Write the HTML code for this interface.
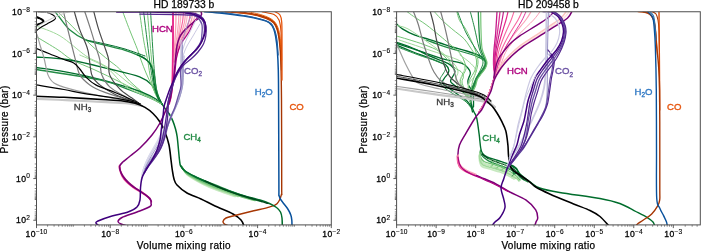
<!DOCTYPE html>
<html><head><meta charset="utf-8"><title>Mixing ratios</title><style>
html,body{margin:0;padding:0;background:#fff;}
body{width:701px;height:251px;overflow:hidden;}
svg{display:block;will-change:transform;}
text{font-family:"Liberation Sans", sans-serif;}
.tl{font-size:8.6px;fill:#000;stroke:#000;stroke-width:0.3px;letter-spacing:0.35px;}
.sup{font-size:6.6px;letter-spacing:0.1px;stroke-width:0.12px;}
.tt{font-size:10.3px;fill:#000;stroke:#000;stroke-width:0.25px;}
.xl{font-size:10px;fill:#000;letter-spacing:0.36px;stroke:#000;stroke-width:0.25px;}
.yl{font-size:10px;fill:#000;letter-spacing:0.3px;stroke:#000;stroke-width:0.25px;}
.lb{font-size:9.6px;stroke-width:0.35px;}
.sub{font-size:6.4px;}
</style></head><body>
<svg width="701" height="251" viewBox="0 0 701 251">
<defs><clipPath id="cl"><rect x="36.5" y="11.75" width="294.8" height="213.15"/></clipPath>
<clipPath id="cr"><rect x="396.6" y="11.75" width="303.7" height="213.15"/></clipPath></defs>
<rect width="701" height="251" fill="#fff"/>
<g clip-path="url(#cl)" stroke-linecap="round" stroke-linejoin="round">
<path d="M55 11.7 C55.83 12.75 57.52 14.97 60 18 C62.48 21.03 65.6 26.25 69.9 29.9 C74.2 33.55 80.17 37.4 85.8 39.9 C91.43 42.4 97.38 43.25 103.7 44.9 C110.02 46.55 117.72 47.98 123.7 49.8 C129.68 51.62 135.42 53.82 139.6 55.8 C143.78 57.78 146.68 59.78 148.8 61.7 C150.92 63.62 151.37 64.97 152.3 67.3 C153.23 69.63 153.78 72.25 154.4 75.7 C155.02 79.15 155.23 84.28 156 88 C156.77 91.72 158 95.33 159 98 C160 100.67 161.5 103 162 104" stroke="#238b45" stroke-width="1.3" fill="none"/>
<path d="M57.9 11.7 C59.57 13.42 62.58 16.63 67.9 22 C73.22 27.37 83.5 37.93 89.8 43.9 C96.1 49.87 100.72 53.62 105.7 57.8 C110.68 61.98 115.72 65.13 119.7 69 C123.68 72.87 125.38 76.83 129.6 81 C133.82 85.17 139.6 90.17 145 94 C150.4 97.83 159.17 102.33 162 104" stroke="#74c476" stroke-width="1.0" fill="none"/>
<path d="M36 25.9 C40 27.57 51.7 30.92 60 35.9 C68.3 40.88 79.13 51.28 85.8 55.8 C92.47 60.32 95.13 60.3 100 63 C104.87 65.7 110 68.5 115 72 C120 75.5 124.5 80 130 84 C135.5 88 142.67 92.67 148 96 C153.33 99.33 159.67 102.67 162 104" stroke="#a1d99b" stroke-width="1.0" fill="none"/>
<path d="M36 36.5 C39.65 38.72 51.92 45.92 57.9 49.8 C63.88 53.68 65.72 56.43 71.9 59.8 C78.08 63.17 86.98 66.3 95 70 C103.02 73.7 111.67 77.83 120 82 C128.33 86.17 138 91.33 145 95 C152 98.67 159.17 102.5 162 104" stroke="#74c476" stroke-width="1.0" fill="none"/>
<path d="M36 57 C41.65 57.5 57.62 58 69.9 60 C82.18 62 98.08 66.18 109.7 69 C121.32 71.82 132.62 74.25 139.6 76.9 C146.58 79.55 148.53 81.72 151.6 84.9 C154.67 88.08 156.27 92.82 158 96 C159.73 99.18 161.33 102.67 162 104" stroke="#006d2c" stroke-width="1.3" fill="none"/>
<path d="M36 67.5 C39.98 68.07 50.93 69.33 59.9 70.9 C68.87 72.47 79.83 74.57 89.8 76.9 C99.77 79.23 110.73 82.25 119.7 84.9 C128.67 87.55 137.63 90.48 143.6 92.8 C149.57 95.12 152.43 96.93 155.5 98.8 C158.57 100.67 160.92 103.13 162 104" stroke="#006d2c" stroke-width="1.3" fill="none"/>
<path d="M36 69.5 C46.63 71.23 84.2 76.5 99.8 79.9 C115.4 83.3 121.23 86.88 129.6 89.9 C137.97 92.92 144.6 95.65 150 98 C155.4 100.35 160 103 162 104" stroke="#238b45" stroke-width="1.3" fill="none"/>
<path d="M122.7 11.7 C123.85 14.73 127.12 23.55 129.6 29.9 C132.08 36.25 135.7 44.78 137.6 49.8 C139.5 54.82 139.6 56.15 141 60 C142.4 63.85 144.17 68.57 146 72.9 C147.83 77.23 150.17 81.98 152 86 C153.83 90.02 155.33 94 157 97 C158.67 100 161.17 102.83 162 104" stroke="#74c476" stroke-width="1.0" fill="none"/>
<path d="M139.6 11.7 C140.27 16.4 142.27 31.85 143.6 39.9 C144.93 47.95 146.37 53.32 147.6 60 C148.83 66.68 149.6 74.17 151 80 C152.4 85.83 154.17 91 156 95 C157.83 99 161 102.5 162 104" stroke="#74c476" stroke-width="1.0" fill="none"/>
<path d="M143.6 11.7 C144.6 19.75 148.03 48.28 149.6 60 C151.17 71.72 151.77 76 153 82 C154.23 88 155.5 92.33 157 96 C158.5 99.67 161.17 102.67 162 104" stroke="#238b45" stroke-width="1.0" fill="none"/>
<path d="M147.4 11.7 C148.1 19.75 150.42 47.8 151.6 60 C152.78 72.2 153.43 78.57 154.5 84.9 C155.57 91.23 156.75 94.82 158 98 C159.25 101.18 161.33 103 162 104" stroke="#74c476" stroke-width="1.0" fill="none"/>
<path d="M150.6 11.7 C151.08 19.75 152.6 47.62 153.5 60 C154.4 72.38 155.08 79.5 156 86 C156.92 92.5 158 96 159 99 C160 102 161.5 103.17 162 104" stroke="#238b45" stroke-width="1.0" fill="none"/>
<path d="M137.6 55 C138.93 55.67 143.27 57 145.6 59 C147.93 61 150.12 62.68 151.6 67 C153.08 71.32 153.43 79.73 154.5 84.9 C155.57 90.07 156.75 94.82 158 98 C159.25 101.18 161.33 103 162 104" stroke="#006d2c" stroke-width="1.2" fill="none"/>
<path d="M79.8 55 C84.12 57 99.05 62.68 105.7 67 C112.35 71.32 115.72 77.25 119.7 80.9 C123.68 84.55 124.88 86.22 129.6 88.9 C134.32 91.58 142.6 94.48 148 97 C153.4 99.52 159.67 102.83 162 104" stroke="#a1d99b" stroke-width="1.0" fill="none"/>
<path d="M86 40 C89.33 40.7 99.5 42.7 106 44.2 C112.5 45.7 118.5 47.03 125 49 C131.5 50.97 141.67 54.83 145 56" stroke="#006d2c" stroke-width="1.0" fill="none"/>
<path d="M63.5 11.7 C64.23 14.73 66.33 23.55 67.9 29.9 C69.47 36.25 71.55 44.45 72.9 49.8 C74.25 55.15 74.85 57.82 76 62 C77.15 66.18 77.5 71.08 79.8 74.9 C82.1 78.72 85.82 82.07 89.8 84.9 C93.78 87.73 97.4 89.42 103.7 91.9 C110 94.38 121.55 97.78 127.6 99.8 C133.65 101.82 137.93 103.3 140 104" stroke="#7c7c7c" stroke-width="1.2" fill="none"/>
<path d="M74.3 11.7 C75.22 14.73 77.55 23.55 79.8 29.9 C82.05 36.25 85.8 42.3 87.8 49.8 C89.8 57.3 89.8 69.05 91.8 74.9 C93.8 80.75 95.82 81.58 99.8 84.9 C103.78 88.22 110.17 92.12 115.7 94.8 C121.23 97.48 128.95 99.47 133 101 C137.05 102.53 138.83 103.5 140 104" stroke="#4a4a4a" stroke-width="1.2" fill="none"/>
<path d="M84.8 11.7 C85.8 14.73 88.8 23.55 90.8 29.9 C92.8 36.25 95.3 44.78 96.8 49.8 C98.3 54.82 98.97 55.82 99.8 60 C100.63 64.18 100.15 70.42 101.8 74.9 C103.45 79.38 105.72 83.25 109.7 86.9 C113.68 90.55 120.65 93.95 125.7 96.8 C130.75 99.65 137.62 102.8 140 104" stroke="#7c7c7c" stroke-width="1.2" fill="none"/>
<path d="M93.8 11.7 C94.63 14.73 96.82 23.55 98.8 29.9 C100.78 36.25 104.05 44.78 105.7 49.8 C107.35 54.82 108.03 55.82 108.7 60 C109.37 64.18 107.87 70.08 109.7 74.9 C111.53 79.72 116.05 85.08 119.7 88.9 C123.35 92.72 128.22 95.28 131.6 97.8 C134.98 100.32 138.6 102.97 140 104" stroke="#4a4a4a" stroke-width="1.2" fill="none"/>
<path d="M36 48.4 C38.33 49.33 45.35 52.15 50 54 C54.65 55.85 59.95 58 63.9 59.5 C67.85 61 71.05 61.42 73.7 63 C76.35 64.58 77.78 66.68 79.8 69 C81.82 71.32 83.13 74.25 85.8 76.9 C88.47 79.55 90.82 82.25 95.8 84.9 C100.78 87.55 109.4 90.15 115.7 92.8 C122 95.45 129.55 98.93 133.6 100.8 C137.65 102.67 138.93 103.47 140 104" stroke="#000000" stroke-width="1.2" fill="none"/>
<path d="M38 11.7 C39.5 11.83 44.5 11.95 47 12.5 C49.5 13.05 51.58 14.08 53 15 C54.42 15.92 55.33 17.17 55.5 18 C55.67 18.83 55.42 19 54 20 C52.58 21 49.33 22.67 47 24 C44.67 25.33 41.83 26.83 40 28 C38.17 29.17 37.17 30.17 36 31 C34.83 31.83 33.5 32.67 33 33" stroke="#000000" stroke-width="1.1" fill="none"/>
<path d="M36 33 C36.25 33.5 36.83 34 37.5 36 C38.17 38 38.92 41.33 40 45 C41.08 48.67 42.67 53.02 44 58 C45.33 62.98 46.33 70.75 48 74.9 C49.67 79.05 50.35 80.57 54 82.9 C57.65 85.23 62.23 86.72 69.9 88.9 C77.57 91.08 89.98 93.98 100 96 C110.02 98.02 123.33 99.67 130 101 C136.67 102.33 138.33 103.5 140 104" stroke="#a0a0a0" stroke-width="1.2" fill="none"/>
<path d="M36 84.9 C40.65 85.67 55.77 88.03 63.9 89.5 C72.03 90.97 75.5 92.15 84.8 93.7 C94.1 95.25 111.57 97.45 119.7 98.8 C127.83 100.15 130.22 100.93 133.6 101.8 C136.98 102.67 138.93 103.63 140 104" stroke="#000000" stroke-width="1.2" fill="none"/>
<path d="M36.4 17 C37 17.25 38.82 17.83 40 18.5 C41.18 19.17 43.25 20.25 43.5 21 C43.75 21.75 42.42 22.42 41.5 23 C40.58 23.58 38.85 24.17 38 24.5 C37.15 24.83 36.67 24.92 36.4 25" stroke="#000000" stroke-width="2.0" fill="none"/>
<path d="M42 11.7 C43.33 11.92 47 12.87 50 13 C53 13.13 56.67 12.72 60 12.5 C63.33 12.28 68.33 11.83 70 11.7" stroke="#c8c8c8" stroke-width="1.0" fill="none"/>
<path d="M38 26 C39.17 25.33 42.17 23.5 45 22 C47.83 20.5 51.67 18.5 55 17 C58.33 15.5 62.5 13.88 65 13 C67.5 12.12 69.17 11.92 70 11.7" stroke="#c8c8c8" stroke-width="1.0" fill="none"/>
<path d="M36 98.8 C41.67 99.05 58.33 99.73 70 100.3 C81.67 100.87 96.33 101.7 106 102.2 C115.67 102.7 122 102.67 128 103.3 C134 103.93 139.67 105.55 142 106" stroke="#c8c8c8" stroke-width="2.2" fill="none"/>
<path d="M36 96.3 C40.67 96.47 52.33 96.72 64 97.3 C75.67 97.88 96.5 99.22 106 99.8 C115.5 100.38 116.17 100.22 121 100.8 C125.83 101.38 131 102.2 135 103.3 C139 104.4 142 105.7 145 107.4 C148 109.1 150.5 111.07 153 113.5 C155.5 115.93 158 118.92 160 122 C162 125.08 163.5 128.17 165 132 C166.5 135.83 168 140.33 169 145 C170 149.67 170.45 155.83 171 160 C171.55 164.17 171.8 166.83 172.3 170 C172.8 173.17 173.22 176.5 174 179 C174.78 181.5 174.83 182.67 177 185 C179.17 187.33 183 190.67 187 193 C191 195.33 196.33 196.83 201 199 C205.67 201.17 209.67 203.5 215 206 C220.33 208.5 228.67 211.67 233 214 C237.33 216.33 239.17 218 241 220 C242.83 222 243.5 225 244 226" stroke="#000000" stroke-width="1.6" fill="none"/>
<path d="M225 11.7 C229 12.07 242.17 12.8 249 13.9 C255.83 15 261.9 16.83 266 18.3 C270.1 19.77 271.72 20.75 273.6 22.7 C275.48 24.65 276.32 26.78 277.3 30 C278.28 33.22 278.92 37 279.5 42 C280.08 47 280.47 50.33 280.8 60 C281.13 69.67 281.35 79.17 281.5 100 C281.65 120.83 281.72 169.22 281.7 185 C281.68 200.78 282.18 191.58 281.4 194.7 C280.62 197.82 279.22 201.6 277 203.7 C274.78 205.8 271.97 206.12 268.1 207.3 C264.23 208.48 259.18 209.47 253.8 210.8 C248.42 212.13 240.43 214.1 235.8 215.3 C231.17 216.5 228.13 216.97 226 218 C223.87 219.03 223.25 220.5 223 221.5 C222.75 222.5 223.75 223.33 224.5 224 C225.25 224.67 227 225.25 227.5 225.5" stroke="#a63603" stroke-width="1.4" fill="none"/>
<path d="M232 11.7 C235.5 12.15 247 13.25 253 14.4 C259 15.55 264.4 17.17 268 18.6 C271.6 20.03 272.93 21.02 274.6 23 C276.27 24.98 277.1 27.33 278 30.5 C278.9 33.67 279.5 37.08 280 42 C280.5 46.92 280.83 57 281 60" stroke="#d94801" stroke-width="1.2" fill="none"/>
<path d="M240 11.7 C242.83 12.18 252 13.38 257 14.6 C262 15.82 266.83 17.27 270 19 C273.17 20.73 274.5 22.33 276 25 C277.5 27.67 278.22 30.83 279 35 C279.78 39.17 280.3 44.17 280.7 50 C281.1 55.83 281.28 66.67 281.4 70" stroke="#a63603" stroke-width="1.1" fill="none"/>
<path d="M248 11.7 C250.33 12.25 258 13.7 262 15 C266 16.3 269.5 17.75 272 19.5 C274.5 21.25 275.7 22.92 277 25.5 C278.3 28.08 279.1 30.92 279.8 35 C280.5 39.08 280.97 47.5 281.2 50" stroke="#f16913" stroke-width="1.0" fill="none"/>
<path d="M262 11.7 C264 12.17 271.17 13.12 274 14.5 C276.83 15.88 277.83 17.08 279 20 C280.17 22.92 280.57 25.33 281 32 C281.43 38.67 281.5 55.33 281.6 60" stroke="#d94801" stroke-width="1.1" fill="none"/>
<path d="M275 11.7 C275.83 12.25 278.88 13.28 280 15 C281.12 16.72 281.37 17.83 281.7 22 C282.03 26.17 281.95 30.33 282 40 C282.05 49.67 282 73.33 282 80" stroke="#e6550d" stroke-width="1.3" fill="none"/>
<path d="M204.4 11.7 C207.33 11.95 215.4 12.47 222 13.2 C228.6 13.93 237.35 15 244 16.1 C250.65 17.2 257.7 18.7 261.9 19.8 C266.1 20.9 267.25 21.23 269.2 22.7 C271.15 24.17 272.5 26.13 273.6 28.6 C274.7 31.07 275.18 33.93 275.8 37.5 C276.42 41.07 276.88 44.58 277.3 50 C277.72 55.42 278.08 61.67 278.3 70 C278.52 78.33 278.5 80.83 278.6 100 C278.7 119.17 278.8 169 278.9 185 C279 201 278.62 193.18 279.2 196 C279.78 198.82 280.97 199.73 282.4 201.9 C283.83 204.07 286.4 206.82 287.8 209 C289.2 211.18 290.13 213.17 290.8 215 C291.47 216.83 291.6 218.17 291.8 220 C292 221.83 291.97 225 292 226" stroke="#08519c" stroke-width="1.5" fill="none"/>
<path d="M214 11.7 C217 12.05 225.67 12.92 232 13.8 C238.33 14.68 246.5 15.88 252 17 C257.5 18.12 261.75 19.33 265 20.5 C268.25 21.67 269.83 22.25 271.5 24 C273.17 25.75 274.08 28.33 275 31 C275.92 33.67 276.47 36 277 40 C277.53 44 278 52.5 278.2 55" stroke="#1f5fa0" stroke-width="1.1" fill="none"/>
<path d="M182 167.5 C182.83 168.67 184.5 172.25 187 174.5 C189.5 176.75 193.17 178.83 197 181 C200.83 183.17 205.83 185.67 210 187.5 C214.17 189.33 217.83 190.5 222 192 C226.17 193.5 232.83 195.75 235 196.5" stroke="#c7e9c0" stroke-width="1.8" fill="none"/>
<path d="M182 167 C182.83 168.17 184.5 171.8 187 174 C189.5 176.2 193.17 178.15 197 180.2 C200.83 182.25 205.5 184.42 210 186.3 C214.5 188.18 219.33 189.8 224 191.5 C228.67 193.2 235.67 195.67 238 196.5" stroke="#a1d99b" stroke-width="1.6" fill="none"/>
<path d="M181.5 166.5 C182.33 167.63 183.92 171.17 186.5 173.3 C189.08 175.43 193.08 177.32 197 179.3 C200.92 181.28 205.33 183.28 210 185.2 C214.67 187.12 219.67 188.83 225 190.8 C230.33 192.77 237 195.38 242 197 C247 198.62 252.83 199.92 255 200.5" stroke="#74c476" stroke-width="1.5" fill="none"/>
<path d="M181 166 C181.83 167 183.33 170 186 172 C188.67 174 193 176.03 197 178 C201 179.97 205.17 181.8 210 183.8 C214.83 185.8 220.33 187.88 226 190 C231.67 192.12 238 194.53 244 196.5 C250 198.47 259 200.92 262 201.8" stroke="#238b45" stroke-width="1.4" fill="none"/>
<path d="M181 166 C181.75 166.92 183 169.67 185.5 171.5 C188 173.33 191.92 175.12 196 177 C200.08 178.88 204.67 180.63 210 182.8 C215.33 184.97 221.67 187.63 228 190 C234.33 192.37 242.33 195.17 248 197 C253.67 198.83 259.67 200.33 262 201" stroke="#238b45" stroke-width="1.3" fill="none"/>
<path d="M162 104 C162.5 104.73 163.78 106.73 165 108.4 C166.22 110.07 168 111.92 169.3 114 C170.6 116.08 171.75 118.35 172.8 120.9 C173.85 123.45 174.87 126.62 175.6 129.3 C176.33 131.98 176.72 133.55 177.2 137 C177.68 140.45 178.12 146.17 178.5 150 C178.88 153.83 179.15 157.33 179.5 160 C179.85 162.67 179.77 164.25 180.6 166 C181.43 167.75 182.1 168.75 184.5 170.5 C186.9 172.25 191.08 174.5 195 176.5 C198.92 178.5 203.83 180.62 208 182.5 C212.17 184.38 214.67 185.78 220 187.8 C225.33 189.82 233.33 192.57 240 194.6 C246.67 196.63 255 198.48 260 200 C265 201.52 267.25 202.45 270 203.7 C272.75 204.95 274.75 206.12 276.5 207.5 C278.25 208.88 279.58 210.25 280.5 212 C281.42 213.75 281.7 215.67 282 218 C282.3 220.33 282.25 224.67 282.3 226" stroke="#006d2c" stroke-width="1.5" fill="none"/>
<path d="M205 181 C206.67 181.75 211.17 183.83 215 185.5 C218.83 187.17 223.83 189.38 228 191 C232.17 192.62 235.5 193.78 240 195.2 C244.5 196.62 250.33 198.12 255 199.5 C259.67 200.88 265.83 202.83 268 203.5" stroke="#00441b" stroke-width="1.3" fill="none"/>
<path d="M176 11.7 C175.97 13.92 175.97 20.28 175.8 25 C175.63 29.72 175.3 35.5 175 40 C174.7 44.5 174.17 50 174 52" stroke="#fa9fb5" stroke-width="1.3" fill="none"/>
<path d="M179 11.7 C178.92 13.42 178.83 17.95 178.5 22 C178.17 26.05 177.58 31.67 177 36 C176.42 40.33 175.5 44.67 175 48 C174.5 51.33 174.17 54.67 174 56" stroke="#fa9fb5" stroke-width="1.1" fill="none"/>
<path d="M181 11.7 C180.88 13.42 180.72 18.28 180.3 22 C179.88 25.72 179.22 30 178.5 34 C177.78 38 176.72 42.33 176 46 C175.28 49.67 174.5 54.33 174.2 56" stroke="#fbb4c4" stroke-width="1.3" fill="none"/>
<path d="M183.5 11.7 C183.33 13.42 183.08 18.45 182.5 22 C181.92 25.55 180.92 29.17 180 33 C179.08 36.83 177.92 41 177 45 C176.08 49 174.92 55 174.5 57" stroke="#f768a1" stroke-width="1.2" fill="none"/>
<path d="M185.5 11.7 C185.33 13.42 185.17 18.45 184.5 22 C183.83 25.55 182.58 29.33 181.5 33 C180.42 36.67 179.08 40.33 178 44 C176.92 47.67 175.67 52 175 55 C174.33 58 174.17 60.83 174 62" stroke="#fa9fb5" stroke-width="1.2" fill="none"/>
<path d="M187.5 11.7 C187.33 13.25 187.17 17.62 186.5 21 C185.83 24.38 184.67 28.5 183.5 32 C182.33 35.5 180.75 38.67 179.5 42 C178.25 45.33 176.83 48.67 176 52 C175.17 55.33 174.75 60.33 174.5 62" stroke="#fbb4c4" stroke-width="1.2" fill="none"/>
<path d="M190.5 11.7 C190.25 13.25 189.83 17.78 189 21 C188.17 24.22 186.83 27.67 185.5 31 C184.17 34.33 182.42 37.67 181 41 C179.58 44.33 178 47.5 177 51 C176 54.5 175.33 60.17 175 62" stroke="#f768a1" stroke-width="1.2" fill="none"/>
<path d="M193 11.7 C192.75 13.08 192.33 17.12 191.5 20 C190.67 22.88 189.42 25.83 188 29 C186.58 32.17 184.58 35.67 183 39 C181.42 42.33 179.75 45.5 178.5 49 C177.25 52.5 176 58.17 175.5 60" stroke="#fa9fb5" stroke-width="1.2" fill="none"/>
<path d="M196 11.7 C195.67 12.92 195 16.45 194 19 C193 21.55 191.5 24.17 190 27 C188.5 29.83 186.67 32.83 185 36 C183.33 39.17 181.42 42.5 180 46 C178.58 49.5 177.08 55.17 176.5 57" stroke="#fbb4c4" stroke-width="1.2" fill="none"/>
<path d="M173 11.7 C173 16.42 173.07 29.45 173 40 C172.93 50.55 172.8 66.67 172.6 75 C172.4 83.33 172.15 86.17 171.8 90 C171.45 93.83 170.97 95.67 170.5 98 C170.03 100.33 169.25 103 169 104" stroke="#e7298a" stroke-width="1.9" fill="none"/>
<path d="M119.2 166 C119.3 166.67 119.33 168.33 119.8 170 C120.27 171.67 120.88 174 122 176 C123.12 178 124.5 180 126.5 182 C128.5 184 131.42 186.17 134 188 C136.58 189.83 139.5 191.33 142 193 C144.5 194.67 147.42 196.5 149 198 C150.58 199.5 151.08 201.33 151.5 202" stroke="#f768a1" stroke-width="1.6" fill="none"/>
<path d="M120 165 C120.05 165.83 119.83 168.25 120.3 170 C120.77 171.75 121.6 173.62 122.8 175.5 C124 177.38 125.47 179.3 127.5 181.3 C129.53 183.3 132.42 185.63 135 187.5 C137.58 189.37 140.5 190.75 143 192.5 C145.5 194.25 148.83 197.08 150 198" stroke="#fa9fb5" stroke-width="1.4" fill="none"/>
<path d="M119.8 167 C120 168 120.22 171 121 173 C121.78 175 122.83 176.92 124.5 179 C126.17 181.08 128.58 183.58 131 185.5 C133.42 187.42 136.33 188.75 139 190.5 C141.67 192.25 144.92 194.17 147 196 C149.08 197.83 150.75 200.58 151.5 201.5" stroke="#ae017e" stroke-width="1.2" fill="none"/>
<path d="M198 17.5 C197.33 18.17 195.33 19.42 194 21.5 C192.67 23.58 191.17 27.75 190 30 C188.83 32.25 188.33 33 187 35 C185.67 37 183.42 39.5 182 42 C180.58 44.5 179.42 47.33 178.5 50 C177.58 52.67 177 55.33 176.5 58 C176 60.67 175.92 62.33 175.5 66 C175.08 69.67 174.25 77.67 174 80" stroke="#ae017e" stroke-width="1.3" fill="none"/>
<path d="M201 11.7 C201.08 12.17 201.83 13.45 201.5 14.5 C201.17 15.55 200.08 16.92 199 18 C197.92 19.08 196.67 19.67 195 21 C193.33 22.33 191 24.17 189 26 C187 27.83 184.62 30 183 32 C181.38 34 180.3 35.67 179.3 38 C178.3 40.33 177.58 43.12 177 46 C176.42 48.88 176.12 52.35 175.8 55.3 C175.48 58.25 175.48 59.58 175.1 63.7 C174.72 67.82 174.1 75.28 173.5 80 C172.9 84.72 172.08 88.67 171.5 92 C170.92 95.33 170.92 97 170 100 C169.08 103 167.67 106.17 166 110 C164.33 113.83 162.33 118.83 160 123 C157.67 127.17 155.33 130.83 152 135 C148.67 139.17 143.83 144.33 140 148 C136.17 151.67 131.92 154.62 129 157 C126.08 159.38 124.05 160.8 122.5 162.3 C120.95 163.8 120.08 164.63 119.7 166 C119.32 167.37 119.62 168.75 120.2 170.5 C120.78 172.25 121.82 174.5 123.2 176.5 C124.58 178.5 126.53 180.62 128.5 182.5 C130.47 184.38 132.42 185.92 135 187.8 C137.58 189.68 141.45 191.93 144 193.8 C146.55 195.67 149.13 197.47 150.3 199 C151.47 200.53 151.05 201.75 151 203 C150.95 204.25 152.33 205 150 206.5 C147.67 208 141.67 210.17 137 212 C132.33 213.83 125.17 215.92 122 217.5 C118.83 219.08 118.17 220.42 118 221.5 C117.83 222.58 119.33 223.25 121 224 C122.67 224.75 126.83 225.67 128 226" stroke="#7a0177" stroke-width="1.5" fill="none"/>
<path d="M196 20 C195 22 191.92 28 190 32 C188.08 36 185.92 40 184.5 44 C183.08 48 182.08 52.33 181.5 56 C180.92 59.67 181.08 64.33 181 66" stroke="#cbc9e2" stroke-width="1.0" fill="none"/>
<path d="M200 24 C198.83 26 195.33 32 193 36 C190.67 40 187.83 44 186 48 C184.17 52 182.83 56.33 182 60 C181.17 63.67 181.17 68.33 181 70" stroke="#cbc9e2" stroke-width="1.0" fill="none"/>
<path d="M192 14 C191.17 16 188.5 21.67 187 26 C185.5 30.33 183.92 35.67 183 40 C182.08 44.33 181.83 48 181.5 52 C181.17 56 181.08 62 181 64" stroke="#9e9ac8" stroke-width="0.9" fill="none"/>
<path d="M181 40 C181 42.5 180.97 50 181 55 C181.03 60 181.12 65.5 181.2 70 C181.28 74.5 181.7 78.17 181.5 82 C181.3 85.83 180.83 89.33 180 93 C179.17 96.67 177.83 100.5 176.5 104 C175.17 107.5 173.58 110.33 172 114 C170.42 117.67 168.5 122.17 167 126 C165.5 129.83 164.33 133.5 163 137 C161.67 140.5 160.67 143.83 159 147 C157.33 150.17 155 153.17 153 156 C151 158.83 148.67 161.33 147 164 C145.33 166.67 143.67 170.67 143 172" stroke="#cbc9e2" stroke-width="1.4" fill="none"/>
<path d="M170 118 C169.17 119.67 166.67 124.67 165 128 C163.33 131.33 161.67 134.83 160 138 C158.33 141.17 156.67 144.17 155 147 C153.33 149.83 151.5 152.33 150 155 C148.5 157.67 147.17 160.33 146 163 C144.83 165.67 143.75 168.17 143 171 C142.25 173.83 141.75 178.5 141.5 180" stroke="#cbc9e2" stroke-width="1.6" fill="none"/>
<path d="M168 120 C167.17 121.67 164.67 126.67 163 130 C161.33 133.33 159.67 136.83 158 140 C156.33 143.17 154.58 146.17 153 149 C151.42 151.83 149.83 154.33 148.5 157 C147.17 159.67 146 162.33 145 165 C144 167.67 142.92 171.67 142.5 173" stroke="#dadaeb" stroke-width="1.6" fill="none"/>
<path d="M171 117 C170.25 118.67 168 123.67 166.5 127 C165 130.33 163.5 133.83 162 137 C160.5 140.17 159.08 143.17 157.5 146 C155.92 148.83 154.08 151.33 152.5 154 C150.92 156.67 149.33 159.33 148 162 C146.67 164.67 145.5 167.33 144.5 170 C143.5 172.67 142.42 176.67 142 178" stroke="#9e9ac8" stroke-width="1.0" fill="none"/>
<path d="M182.5 45 C182.47 47.5 182.3 55 182.3 60 C182.3 65 182.55 70.33 182.5 75 C182.45 79.67 182.5 84.17 182 88 C181.5 91.83 180.58 94.67 179.5 98 C178.42 101.33 177.08 104.33 175.5 108 C173.92 111.67 171.75 116 170 120 C168.25 124 166.5 128.17 165 132 C163.5 135.83 162.5 139.5 161 143 C159.5 146.5 157.83 150 156 153 C154.17 156 151.83 158.33 150 161 C148.17 163.67 145.83 167.67 145 169" stroke="#9e9ac8" stroke-width="1.1" fill="none"/>
<path d="M184 56 C183.92 58.33 183.67 65.33 183.5 70 C183.33 74.67 183.58 79.67 183 84 C182.42 88.33 181.17 92.33 180 96 C178.83 99.67 177.5 102.33 176 106 C174.5 109.67 172.67 113.83 171 118 C169.33 122.17 167.5 127 166 131 C164.5 135 163.33 138.67 162 142 C160.67 145.33 159.67 148.17 158 151 C156.33 153.83 154 156.33 152 159 C150 161.67 147 165.67 146 167" stroke="#9e9ac8" stroke-width="1.0" fill="none"/>
<path d="M140 14.2 C145.83 14.27 166.67 14.43 175 14.6 C183.33 14.77 186 14.8 190 15.2 C194 15.6 196.75 15.87 199 17 C201.25 18.13 202.58 19.83 203.5 22 C204.42 24.17 204.58 27.33 204.5 30 C204.42 32.67 203.92 35.33 203 38 C202.08 40.67 200.83 43.33 199 46 C197.17 48.67 194.33 51.5 192 54 C189.67 56.5 187 58.67 185 61 C183 63.33 181.67 65.17 180 68 C178.33 70.83 176.42 74.33 175 78 C173.58 81.67 172.67 86 171.5 90 C170.33 94 168.83 97.83 168 102 C167.17 106.17 167.08 110.67 166.5 115 C165.92 119.33 165.25 123.83 164.5 128 C163.75 132.17 163 136.33 162 140 C161 143.67 160 146.83 158.5 150 C157 153.17 154.75 156.33 153 159 C151.25 161.67 149.5 163.67 148 166 C146.5 168.33 144.67 171.83 144 173" stroke="#54278f" stroke-width="1.3" fill="none"/>
<path d="M186 13.5 C187.67 14 193.37 14.75 196 16.5 C198.63 18.25 200.83 20.82 201.8 24 C202.77 27.18 202.03 32.5 201.8 35.6 C201.57 38.7 201.78 39.82 200.4 42.6 C199.02 45.38 195.82 49.52 193.5 52.3 C191.18 55.08 188.37 57.18 186.5 59.3 C184.63 61.42 183.3 62.88 182.3 65 C181.3 67.12 180.72 68.5 180.5 72 C180.28 75.5 181.42 81.83 181 86 C180.58 90.17 179 93.5 178 97 C177 100.5 176 104.17 175 107 C174 109.83 173.17 111 172 114 C170.83 117 169.17 121.17 168 125 C166.83 128.83 166.17 133.17 165 137 C163.83 140.83 162.58 144.67 161 148 C159.42 151.33 157.42 154.17 155.5 157 C153.58 159.83 151.25 162.5 149.5 165 C147.75 167.5 145.75 170.83 145 172" stroke="#6a51a3" stroke-width="1.3" fill="none"/>
<path d="M180 12 C182.5 12.25 191.17 12.42 195 13.5 C198.83 14.58 201.17 16.25 203 18.5 C204.83 20.75 205.53 24.08 206 27 C206.47 29.92 206.22 33.17 205.8 36 C205.38 38.83 204.8 41.33 203.5 44 C202.2 46.67 200.13 49.45 198 52 C195.87 54.55 193.08 57.13 190.7 59.3 C188.32 61.47 185.82 62.72 183.7 65 C181.58 67.28 179.78 69.83 178 73 C176.22 76.17 174.33 80.5 173 84 C171.67 87.5 170.75 91 170 94 C169.25 97 168.85 98.67 168.5 102 C168.15 105.33 168.23 110 167.9 114 C167.57 118 166.98 122.5 166.5 126 C166.02 129.5 165.75 131.83 165 135 C164.25 138.17 163.17 142 162 145 C160.83 148 159.67 150.33 158 153 C156.33 155.67 154 158.33 152 161 C150 163.67 147 167.67 146 169" stroke="#54278f" stroke-width="1.3" fill="none"/>
<path d="M116.7 11.9 C122.25 11.93 139.45 11.98 150 12.1 C160.55 12.22 172.67 12.2 180 12.6 C187.33 13 190.13 13.33 194 14.5 C197.87 15.67 201.27 17.7 203.2 19.6 C205.13 21.5 205.33 23.52 205.6 25.9 C205.87 28.28 205.47 31.25 204.8 33.9 C204.13 36.55 202.83 39.38 201.6 41.8 C200.37 44.22 199.72 45.68 197.4 48.4 C195.08 51.12 190.48 55.08 187.7 58.1 C184.92 61.12 182.57 63.93 180.7 66.5 C178.83 69.07 177.95 70.58 176.5 73.5 C175.05 76.42 173.17 81.25 172 84 C170.83 86.75 170.5 87.33 169.5 90 C168.5 92.67 166.92 97.17 166 100 C165.08 102.83 164.5 104.22 164 107 C163.5 109.78 163.42 113.2 163 116.7 C162.58 120.2 162 124.12 161.5 128 C161 131.88 160.75 136.33 160 140 C159.25 143.67 158.33 146.67 157 150 C155.67 153.33 153.83 156.67 152 160 C150.17 163.33 147.67 167 146 170 C144.33 173 142.92 175 142 178 C141.08 181 140.83 184.33 140.5 188 C140.17 191.67 140.58 196.83 140 200 C139.42 203.17 139 205 137 207 C135 209 132.17 210.5 128 212 C123.83 213.5 117 214.5 112 216 C107 217.5 100.67 219.83 98 221 C95.33 222.17 95.83 222.17 96 223 C96.17 223.83 98.5 225.5 99 226" stroke="#3f007d" stroke-width="1.5" fill="none"/>
</g>
<g clip-path="url(#cr)" stroke-linecap="round" stroke-linejoin="round">
<path d="M396 23.3 C397.07 24.23 399.25 26.92 402.4 28.9 C405.55 30.88 410.48 33.45 414.9 35.2 C419.32 36.95 424.72 38.1 428.9 39.4 C433.08 40.7 436.15 41.73 440 43 C443.85 44.27 447.57 45.67 452 47 C456.43 48.33 462.27 49.67 466.6 51 C470.93 52.33 475.1 53.67 478 55 C480.9 56.33 482.62 57.67 484 59 C485.38 60.33 486.22 61.38 486.3 63 C486.38 64.62 485.63 66.7 484.5 68.7 C483.37 70.7 481.08 72.78 479.5 75 C477.92 77.22 476.33 79.5 475 82 C473.67 84.5 472.25 87.5 471.5 90 C470.75 92.5 470.45 94.33 470.5 97 C470.55 99.67 471.22 103.5 471.8 106 C472.38 108.5 473.18 110 474 112 C474.82 114 475.85 114.35 476.7 118 C477.55 121.65 478.43 128.9 479.1 133.9 C479.77 138.9 480.13 144.73 480.7 148 C481.27 151.27 481.45 152 482.5 153.5 C483.55 155 484.45 155.83 487 157 C489.55 158.17 494.02 159.25 497.8 160.5 C501.58 161.75 506.67 163.25 509.7 164.5 C512.73 165.75 514.28 166.42 516 168 C517.72 169.58 517.73 171.75 520 174 C522.27 176.25 526.32 179.17 529.6 181.5 C532.88 183.83 534.7 186.17 539.7 188 C544.7 189.83 549.57 190.75 559.6 192.5 C569.63 194.25 589.87 196.67 599.9 198.5 C609.93 200.33 613.82 201.33 619.8 203.5 C625.78 205.67 631.15 209.12 635.8 211.5 C640.45 213.88 644.83 216.05 647.7 217.8 C650.57 219.55 651.83 220.63 653 222 C654.17 223.37 654.42 225.33 654.7 226" stroke="#006d2c" stroke-width="1.4" fill="none"/>
<path d="M396 44.8 C398.67 45.92 406.67 49.38 412 51.5 C417.33 53.62 423.33 55.67 428 57.5 C432.67 59.33 437.07 61.28 440 62.5 C442.93 63.72 444.15 63.62 445.6 64.8 C447.05 65.98 448.3 68.15 448.7 69.6 C449.1 71.05 448.65 72.18 448 73.5 C447.35 74.82 445.73 76.17 444.8 77.5 C443.87 78.83 442.67 80.43 442.4 81.5 C442.13 82.57 442.15 82.83 443.2 83.9 C444.25 84.97 446.32 86.17 448.7 87.9 C451.08 89.63 454.45 92.12 457.5 94.3 C460.55 96.48 464.75 98.88 467 101 C469.25 103.12 470.08 105.17 471 107 C471.92 108.83 472.25 111.17 472.5 112" stroke="#006d2c" stroke-width="1.3" fill="none"/>
<path d="M396 42 C399.17 43.17 409.33 46.63 415 49 C420.67 51.37 424.52 53.8 430 56.2 C435.48 58.6 444.02 61.42 447.9 63.4 C451.78 65.38 452.12 66.75 453.3 68.1 C454.48 69.45 454.97 70.3 455 71.5 C455.03 72.7 454.17 73.97 453.5 75.3 C452.83 76.63 451.4 78.33 451 79.5 C450.6 80.67 450.15 81.03 451.1 82.3 C452.05 83.57 454.38 85.15 456.7 87.1 C459.02 89.05 462.78 91.68 465 94 C467.22 96.32 468.83 98.67 470 101 C471.17 103.33 471.67 106.83 472 108" stroke="#006d2c" stroke-width="1.3" fill="none"/>
<path d="M396 43.2 C399.98 44.53 411.93 48.55 419.9 51.2 C427.87 53.85 436.87 57.1 443.8 59.1 C450.73 61.1 457.48 61.72 461.5 63.2 C465.52 64.68 466.43 66.42 467.9 68 C469.37 69.58 470.03 71.37 470.3 72.7 C470.57 74.03 469.9 74.67 469.5 76 C469.1 77.33 468.03 79.12 467.9 80.7 C467.77 82.28 467.9 83.63 468.7 85.5 C469.5 87.37 471.9 89.48 472.7 91.9 C473.5 94.32 473.37 97.48 473.5 100 C473.63 102.52 473.5 105.83 473.5 107" stroke="#006d2c" stroke-width="1.3" fill="none"/>
<path d="M396 46.4 C399.98 47.92 412.9 52.98 419.9 55.5 C426.9 58.02 433.98 59.92 438 61.5 C442.02 63.08 442.75 63.75 444 65 C445.25 66.25 445.67 67.5 445.5 69 C445.33 70.5 443.92 72.33 443 74 C442.08 75.67 440.42 77.33 440 79 C439.58 80.67 439.5 82.33 440.5 84 C441.5 85.67 443.58 87.17 446 89 C448.42 90.83 451.83 93 455 95 C458.17 97 462.42 99 465 101 C467.58 103 469.58 106 470.5 107" stroke="#238b45" stroke-width="1.0" fill="none"/>
<path d="M426.3 40 C429.22 41.07 436.37 44.02 443.8 46.4 C451.23 48.78 464.87 52.37 470.9 54.3 C476.93 56.23 477.65 56.88 480 58 C482.35 59.12 484 60 485 61 C486 62 486.33 62.67 486 64 C485.67 65.33 484.17 67.33 483 69 C481.83 70.67 480.17 72.33 479 74 C477.83 75.67 476.75 77.17 476 79 C475.25 80.83 475.25 82.83 474.5 85 C473.75 87.17 472.08 89.5 471.5 92 C470.92 94.5 471.08 98.67 471 100" stroke="#238b45" stroke-width="1.2" fill="none"/>
<path d="M407.2 11.7 C408.25 12.48 410.35 14.23 413.5 16.4 C416.65 18.57 421.68 21.45 426.1 24.7 C430.52 27.95 436.28 32.85 440 35.9 C443.72 38.95 445.12 40.15 448.4 43 C451.68 45.85 457.02 49.83 459.7 53 C462.38 56.17 463.45 59.38 464.5 62 C465.55 64.62 466.25 66.53 466 68.7 C465.75 70.87 463.92 73.12 463 75 C462.08 76.88 460.67 78 460.5 80 C460.33 82 460.92 84.5 462 87 C463.08 89.5 465.5 92.33 467 95 C468.5 97.67 470.33 101.67 471 103" stroke="#74c476" stroke-width="1.0" fill="none"/>
<path d="M434.4 11.7 C435.1 12.48 436.5 14.23 438.6 16.4 C440.7 18.57 444.2 22.15 447 24.7 C449.8 27.25 452.57 29.37 455.4 31.7 C458.23 34.03 461.57 36.15 464 38.7 C466.43 41.25 468.1 44.12 470 47 C471.9 49.88 474.32 53.17 475.4 56 C476.48 58.83 476.7 61.33 476.5 64 C476.3 66.67 475.28 69.5 474.2 72 C473.12 74.5 470.95 76.67 470 79 C469.05 81.33 468.5 83.33 468.5 86 C468.5 88.67 469.75 93.5 470 95" stroke="#74c476" stroke-width="1.0" fill="none"/>
<path d="M456.8 11.7 C457.27 13.18 458.23 17.88 459.6 20.6 C460.97 23.32 463.1 24.77 465 28 C466.9 31.23 469.17 36 471 40 C472.83 44 474.83 48.33 476 52 C477.17 55.67 478 58.67 478 62 C478 65.33 476.83 69 476 72 C475.17 75 473.83 77 473 80 C472.17 83 471.33 88.33 471 90" stroke="#74c476" stroke-width="1.0" fill="none"/>
<path d="M457.6 11.7 C458.93 15.07 462.68 25.85 465.6 31.9 C468.52 37.95 472.53 43.82 475.1 48 C477.67 52.18 479.68 54.5 481 57 C482.32 59.5 483.17 60.67 483 63 C482.83 65.33 481.17 68.5 480 71 C478.83 73.5 477.17 75.5 476 78 C474.83 80.5 473.83 83.17 473 86 C472.17 88.83 471.33 93.5 471 95" stroke="#238b45" stroke-width="1.0" fill="none"/>
<path d="M470.3 11.7 C470.97 14.27 472.83 21.05 474.3 27.1 C475.77 33.15 477.65 42.85 479.1 48 C480.55 53.15 482.02 55.5 483 58 C483.98 60.5 485.17 61 485 63 C484.83 65 483.17 67.67 482 70 C480.83 72.33 479.2 74.5 478 77 C476.8 79.5 475.83 82.5 474.8 85 C473.77 87.5 472.3 90.83 471.8 92" stroke="#238b45" stroke-width="1.0" fill="none"/>
<path d="M478.3 11.7 C478.42 14.75 478.63 23.95 479 30 C479.37 36.05 479.67 43.5 480.5 48 C481.33 52.5 483.08 54.67 484 57 C484.92 59.33 485.92 60.33 486 62 C486.08 63.67 485.47 65.18 484.5 67 C483.53 68.82 481.52 70.92 480.2 72.9 C478.88 74.88 477.5 76.88 476.6 78.9 C475.7 80.92 475.65 82.82 474.8 85 C473.95 87.18 472.05 90.83 471.5 92" stroke="#238b45" stroke-width="1.3" fill="none"/>
<path d="M480.7 11.7 C480.75 14.75 480.78 23.95 481 30 C481.22 36.05 481.25 43.33 482 48 C482.75 52.67 484.67 55.5 485.5 58 C486.33 60.5 487 61.33 487 63 C487 64.67 486.42 66.25 485.5 68 C484.58 69.75 482.83 71.67 481.5 73.5 C480.17 75.33 478.5 76.92 477.5 79 C476.5 81.08 476.42 83.67 475.5 86 C474.58 88.33 472.58 91.83 472 93" stroke="#74c476" stroke-width="1.2" fill="none"/>
<path d="M399.2 40 C403.98 41.6 417.82 46.15 427.9 49.6 C437.98 53.05 453.6 57.52 459.7 60.7 C465.8 63.88 464.23 66.03 464.5 68.7 C464.77 71.37 462.05 74.48 461.3 76.7 C460.55 78.92 459.72 79.78 460 82 C460.28 84.22 461.67 87.33 463 90 C464.33 92.67 467.17 96.67 468 98" stroke="#a1d99b" stroke-width="1.0" fill="none"/>
<path d="M396 25.4 C398 25.98 402.52 25.97 408 28.9 C413.48 31.83 422.73 38.65 428.9 43 C435.07 47.35 440.65 51.33 445 55 C449.35 58.67 452.83 62.17 455 65 C457.17 67.83 457.83 69.83 458 72 C458.17 74.17 456.17 75.83 456 78 C455.83 80.17 455.67 82.33 457 85 C458.33 87.67 461.83 91.33 464 94 C466.17 96.67 469 99.83 470 101" stroke="#a1d99b" stroke-width="1.0" fill="none"/>
<path d="M396 35.9 C398 36.48 403.17 37.88 408 39.4 C412.83 40.92 419.67 42.9 425 45 C430.33 47.1 435.18 48.33 440 52 C444.82 55.67 450.38 63.72 453.9 67 C457.42 70.28 459.5 70.12 461.1 71.7 C462.7 73.28 463.35 74.78 463.5 76.5 C463.65 78.22 461.75 79.75 462 82 C462.25 84.25 463.67 87.33 465 90 C466.33 92.67 469.17 96.67 470 98" stroke="#74c476" stroke-width="1.0" fill="none"/>
<path d="M459.9 55 C461.48 56.2 466.82 59.82 469.4 62.2 C471.98 64.58 474.6 66.92 475.4 69.3 C476.2 71.68 475.2 74.3 474.2 76.5 C473.2 78.7 470.43 80.58 469.4 82.5 C468.37 84.42 467.9 85.75 468 88 C468.1 90.25 469.67 94.67 470 96" stroke="#a1d99b" stroke-width="1.0" fill="none"/>
<path d="M480.5 150 C480.58 150.72 479.75 152.53 481 154.3 C482.25 156.07 484.52 158.63 488 160.6 C491.48 162.57 498.23 164.62 501.9 166.1 C505.57 167.58 507.65 168.35 510 169.5 C512.35 170.65 514.17 171.58 516 173 C517.83 174.42 519 176.5 521 178 C523 179.5 526.83 181.33 528 182" stroke="#238b45" stroke-width="1.3" fill="none"/>
<path d="M482 154 C483 154.75 485.33 157.08 488 158.5 C490.67 159.92 494.67 161.25 498 162.5 C501.33 163.75 505.33 164.83 508 166 C510.67 167.17 512.33 168.17 514 169.5 C515.67 170.83 516.33 172.33 518 174 C519.67 175.67 523 178.58 524 179.5" stroke="#00441b" stroke-width="1.2" fill="none"/>
<path d="M480 152 C480.08 152.83 479.83 155.42 480.5 157 C481.17 158.58 482.08 160.33 484 161.5 C485.92 162.67 489.02 163 492 164 C494.98 165 499.07 166.33 501.9 167.5 C504.73 168.67 506.82 169.75 509 171 C511.18 172.25 513.17 173.5 515 175 C516.83 176.5 519.17 179.17 520 180" stroke="#74c476" stroke-width="1.4" fill="none"/>
<path d="M479.6 154 C479.7 154.83 479.63 157.5 480.2 159 C480.77 160.5 481.37 161.92 483 163 C484.63 164.08 487.17 164.5 490 165.5 C492.83 166.5 496.85 167.73 500 169 C503.15 170.27 506.27 171.72 508.9 173.1 C511.53 174.48 514.12 175.98 515.8 177.3 C517.48 178.62 518.47 180.38 519 181" stroke="#a1d99b" stroke-width="1.5" fill="none"/>
<path d="M479.6 156.4 C479.83 157.33 479.6 160.62 481 162 C482.4 163.38 484.52 163.55 488 164.7 C491.48 165.85 498.42 167.5 501.9 168.9 C505.38 170.3 506.58 171.7 508.9 173.1 C511.22 174.5 514.65 176.6 515.8 177.3" stroke="#c7e9c0" stroke-width="1.6" fill="none"/>
<path d="M479.3 156 C479.38 157 479.35 160.25 479.8 162 C480.25 163.75 480.3 165.33 482 166.5 C483.7 167.67 487 168.08 490 169 C493 169.92 497 170.92 500 172 C503 173.08 505.67 174.33 508 175.5 C510.33 176.67 513 178.42 514 179" stroke="#c7e9c0" stroke-width="1.8" fill="none"/>
<path d="M479.5 155 C479.58 155.92 479.42 158.83 480 160.5 C480.58 162.17 481.17 163.83 483 165 C484.83 166.17 488 166.58 491 167.5 C494 168.42 498 169.42 501 170.5 C504 171.58 506.5 172.67 509 174 C511.5 175.33 514.83 177.75 516 178.5" stroke="#a1d99b" stroke-width="1.5" fill="none"/>
<path d="M489 159 C489.5 159.33 491.33 160 492 161 C492.67 162 493.17 164.17 493 165 C492.83 165.83 491.33 165.83 491 166" stroke="#74c476" stroke-width="0.9" fill="none"/>
<path d="M494 160.5 C494.5 160.92 496.33 161.92 497 163 C497.67 164.08 498.17 166.17 498 167 C497.83 167.83 496.33 167.83 496 168" stroke="#74c476" stroke-width="0.9" fill="none"/>
<path d="M499 162 C499.5 162.42 501.33 163.33 502 164.5 C502.67 165.67 503.17 168.08 503 169 C502.83 169.92 501.33 169.83 501 170" stroke="#74c476" stroke-width="0.9" fill="none"/>
<path d="M504 164 C504.5 164.42 506.33 165.33 507 166.5 C507.67 167.67 508.17 170.08 508 171 C507.83 171.92 506.33 171.83 506 172" stroke="#74c476" stroke-width="0.9" fill="none"/>
<path d="M511.7 166.1 C512.38 166.57 514.83 168.08 515.8 168.9 C516.77 169.72 517.47 170.23 517.5 171 C517.53 171.77 516.67 173.17 516 173.5 C515.33 173.83 514 173.58 513.5 173 C513 172.42 513.08 170.5 513 170" stroke="#006d2c" stroke-width="1.1" fill="none"/>
<path d="M509 168 C509.67 168.33 512.17 169 513 170 C513.83 171 514.17 173 514 174 C513.83 175 512.33 175.67 512 176" stroke="#238b45" stroke-width="0.9" fill="none"/>
<path d="M413.5 11.7 C414.32 13.87 416.77 19.48 418.4 24.7 C420.03 29.92 421.32 36.47 423.3 43 C425.28 49.53 428.52 59.07 430.3 63.9 C432.08 68.73 432.38 69.32 434 72 C435.62 74.68 437.33 77.67 440 80 C442.67 82.33 445 83.92 450 86 C455 88.08 464.17 90.5 470 92.5 C475.83 94.5 482.5 97.08 485 98" stroke="#7c7c7c" stroke-width="1.2" fill="none"/>
<path d="M430.3 11.7 C430.87 13.87 432.55 19.48 433.7 24.7 C434.85 29.92 435.52 36.47 437.2 43 C438.88 49.53 442.17 59.07 443.8 63.9 C445.43 68.73 445.63 69.48 447 72 C448.37 74.52 449.33 76.42 452 79 C454.67 81.58 458.67 84.83 463 87.5 C467.33 90.17 473.83 92.92 478 95 C482.17 97.08 486.33 99.17 488 100" stroke="#4a4a4a" stroke-width="1.2" fill="none"/>
<path d="M440.7 11.7 C441.28 13.87 442.92 19.48 444.2 24.7 C445.48 29.92 447.13 37.27 448.4 43 C449.67 48.73 450.43 52.97 451.8 59.1 C453.17 65.23 454.9 75.15 456.6 79.8 C458.3 84.45 458.93 84.47 462 87 C465.07 89.53 470.67 92.83 475 95 C479.33 97.17 485.83 99.17 488 100" stroke="#7c7c7c" stroke-width="1.2" fill="none"/>
<path d="M396 44 C396.4 44.67 396.8 44.68 398.4 48 C400 51.32 403.08 58.87 405.6 63.9 C408.12 68.93 411.1 74.85 413.5 78.2 C415.9 81.55 415.58 82.2 420 84 C424.42 85.8 431.67 87.17 440 89 C448.33 90.83 462 93.17 470 95 C478 96.83 485 99.17 488 100" stroke="#a0a0a0" stroke-width="1.2" fill="none"/>
<path d="M396 88.5 C402.33 89.45 423.33 92.7 434 94.2 C444.67 95.7 452.67 96.45 460 97.5 C467.33 98.55 473 99.5 478 100.5 C483 101.5 487.17 102.42 490 103.5 C492.83 104.58 494.17 106.42 495 107" stroke="#c8c8c8" stroke-width="2.2" fill="none"/>
<path d="M396 86.3 C402.33 87.2 423 90.08 434 91.7 C445 93.32 454.33 94.78 462 96 C469.67 97.22 475.33 98 480 99 C484.67 100 488.33 101.5 490 102" stroke="#a0a0a0" stroke-width="1.1" fill="none"/>
<path d="M396 74.4 C402.33 75.58 422 78.98 434 81.5 C446 84.02 459.67 87.25 468 89.5 C476.33 91.75 480.17 93.08 484 95 C487.83 96.92 489.83 100 491 101" stroke="#000000" stroke-width="1.1" fill="none"/>
<path d="M396 76.2 C402.33 77.38 422 80.83 434 83.3 C446 85.77 459.5 88.8 468 91 C476.5 93.2 481.17 94.67 485 96.5 C488.83 98.33 490 101.08 491 102" stroke="#4a4a4a" stroke-width="1.0" fill="none"/>
<path d="M396 78 C402.33 79.17 422.05 82.58 434 85 C445.95 87.42 460.03 90.58 467.7 92.5 C475.37 94.42 476.92 95.1 480 96.5 C483.08 97.9 484.17 99.27 486.2 100.9 C488.23 102.53 490.4 104.28 492.2 106.3 C494 108.32 495.43 110.52 497 113 C498.57 115.48 500.13 118.22 501.6 121.2 C503.07 124.18 504.75 126.93 505.8 130.9 C506.85 134.87 507.42 140.65 507.9 145 C508.38 149.35 508.07 153.02 508.7 157 C509.33 160.98 509.87 165.92 511.7 168.9 C513.53 171.88 516.72 172.73 519.7 174.9 C522.68 177.07 526.93 179.88 529.6 181.9 C532.27 183.92 532.35 185 535.7 187 C539.05 189 543.38 191.08 549.7 193.9 C556.02 196.72 566.88 201.13 573.6 203.9 C580.32 206.67 585.6 208.4 590 210.5 C594.4 212.6 596.85 213.92 600 216.5 C603.15 219.08 607.42 224.42 608.9 226" stroke="#000000" stroke-width="1.6" fill="none"/>
<path d="M497 11.7 C496.92 13.08 496.75 16.12 496.5 20 C496.25 23.88 495.92 30.03 495.5 35 C495.08 39.97 494.33 45.63 494 49.8 C493.67 53.97 493.55 56.97 493.5 60 C493.45 63.03 493.53 65.5 493.7 68 C493.87 70.5 494.78 72.17 494.5 75 C494.22 77.83 493.08 81.5 492 85 C490.92 88.5 489.33 92.83 488 96 C486.67 99.17 485.5 101.33 484 104 C482.5 106.67 479.83 110.67 479 112" stroke="#c51b8a" stroke-width="1.3" fill="none"/>
<path d="M500 11.7 C499.85 13.08 499.56 16.12 499.08 20 C498.6 23.88 497.8 30.03 497.1 35 C496.41 39.97 495.4 45.63 494.91 49.8 C494.41 53.97 494.26 56.97 494.13 60 C494 63.03 494.04 65.5 494.12 68 C494.2 70.5 494.96 72.17 494.6 75 C494.25 77.83 493.1 81.5 492 85 C490.9 88.5 489.33 92.83 488 96 C486.67 99.17 485.5 101.33 484 104 C482.5 106.67 479.83 110.67 479 112" stroke="#dd3497" stroke-width="1.3" fill="none"/>
<path d="M503.5 11.7 C503.27 13.08 502.85 16.12 502.09 20 C501.34 23.88 500 30.03 498.98 35 C497.96 39.97 496.65 45.63 495.97 49.8 C495.28 53.97 495.09 56.97 494.86 60 C494.63 63.03 494.63 65.5 494.61 68 C494.58 70.5 495.16 72.17 494.73 75 C494.29 77.83 493.12 81.5 492 85 C490.88 88.5 489.33 92.83 488 96 C486.67 99.17 485.5 101.33 484 104 C482.5 106.67 479.83 110.67 479 112" stroke="#c51b8a" stroke-width="1.2" fill="none"/>
<path d="M508 11.7 C507.66 13.08 507.07 16.12 505.97 20 C504.86 23.88 502.82 30.03 501.38 35 C499.94 39.97 498.26 45.63 497.33 49.8 C496.4 53.97 496.15 56.97 495.8 60 C495.45 63.03 495.39 65.5 495.23 68 C495.08 70.5 495.42 72.17 494.88 75 C494.34 77.83 493.15 81.5 492 85 C490.85 88.5 489.33 92.83 488 96 C486.67 99.17 485.5 101.33 484 104 C482.5 106.67 479.83 110.67 479 112" stroke="#e7298a" stroke-width="1.2" fill="none"/>
<path d="M514 11.7 C513.52 13.08 512.7 16.12 511.13 20 C509.56 23.88 506.59 30.03 504.59 35 C502.59 39.97 500.4 45.63 499.14 49.8 C497.88 53.97 497.57 56.97 497.06 60 C496.55 63.03 496.4 65.5 496.07 68 C495.74 70.5 495.77 72.17 495.09 75 C494.41 77.83 493.18 81.5 492 85 C490.82 88.5 489.33 92.83 488 96 C486.67 99.17 485.5 101.33 484 104 C482.5 106.67 479.83 110.67 479 112" stroke="#f768a1" stroke-width="1.1" fill="none"/>
<path d="M522 11.7 C521.34 13.08 520.2 16.12 518.01 20 C515.82 23.88 511.61 30.03 508.87 35 C506.13 39.97 503.25 45.63 501.56 49.8 C499.87 53.97 499.46 56.97 498.73 60 C498 63.03 497.75 65.5 497.19 68 C496.63 70.5 496.24 72.17 495.37 75 C494.51 77.83 493.23 81.5 492 85 C490.77 88.5 489.33 92.83 488 96 C486.67 99.17 485.5 101.33 484 104 C482.5 106.67 479.83 110.67 479 112" stroke="#f768a1" stroke-width="1.1" fill="none"/>
<path d="M531 11.7 C530.13 13.08 528.64 16.12 525.76 20 C522.87 23.88 517.27 30.03 513.69 35 C510.11 39.97 506.46 45.63 504.28 49.8 C502.1 53.97 501.59 56.97 500.62 60 C499.64 63.03 499.27 65.5 498.44 68 C497.62 70.5 496.76 72.17 495.69 75 C494.61 77.83 493.28 81.5 492 85 C490.72 88.5 489.33 92.83 488 96 C486.67 99.17 485.5 101.33 484 104 C482.5 106.67 479.83 110.67 479 112" stroke="#fa9fb5" stroke-width="1.1" fill="none"/>
<path d="M540 11.7 C538.92 13.08 537.08 16.12 533.5 20 C529.92 23.88 522.92 30.03 518.5 35 C514.08 39.97 509.67 45.63 507 49.8 C504.33 53.97 503.72 56.97 502.5 60 C501.28 63.03 500.78 65.5 499.7 68 C498.62 70.5 497.28 72.17 496 75 C494.72 77.83 493.33 81.5 492 85 C490.67 88.5 489.33 92.83 488 96 C486.67 99.17 485.5 101.33 484 104 C482.5 106.67 479.83 110.67 479 112" stroke="#fa9fb5" stroke-width="1.0" fill="none"/>
<path d="M526 11.7 C525.17 13.42 523.5 17.62 521 22 C518.5 26.38 514 33 511 38 C508 43 505.17 47.5 503 52 C500.83 56.5 499.33 61.17 498 65 C496.67 68.83 495.5 73.33 495 75" stroke="#dd3497" stroke-width="1.0" fill="none"/>
<path d="M553.7 12 C552.7 13 550.68 15.68 547.7 18 C544.72 20.32 540.45 22.92 535.8 25.9 C531.15 28.88 524.12 32.9 519.8 35.9 C515.48 38.9 512.88 40.92 509.9 43.9 C506.92 46.88 503.9 51.12 501.9 53.8 C499.9 56.48 499.05 57.3 497.9 60 C496.75 62.7 495.65 67 495 70 C494.35 73 494.17 76.67 494 78" stroke="#7a0177" stroke-width="1.4" fill="none"/>
<path d="M566 11.7 C565.17 12.75 563.67 15.63 561 18 C558.33 20.37 554.33 22.92 550 25.9 C545.67 28.88 540 32.57 535 35.9 C530 39.23 524.33 42.58 520 45.9 C515.67 49.22 512 52.78 509 55.8 C506 58.82 504 60.97 502 64 C500 67.03 497.83 72.33 497 74" stroke="#fcc5c0" stroke-width="1.6" fill="none"/>
<path d="M569 11.7 C568.17 12.75 566.67 15.63 564 18 C561.33 20.37 557.33 22.92 553 25.9 C548.67 28.88 543.17 32.57 538 35.9 C532.83 39.23 526.5 42.58 522 45.9 C517.5 49.22 514 52.78 511 55.8 C508 58.82 506.17 60.97 504 64 C501.83 67.03 499 72.33 498 74" stroke="#fde0dd" stroke-width="1.4" fill="none"/>
<path d="M571.6 12 C570.93 13 570.25 15.68 567.6 18 C564.95 20.32 560.33 22.92 555.7 25.9 C551.07 28.88 545.12 32.57 539.8 35.9 C534.48 39.23 528.45 42.58 523.8 45.9 C519.15 49.22 515.03 52.95 511.9 55.8 C508.77 58.65 507.15 60.47 505 63 C502.85 65.53 500.8 68.17 499 71 C497.2 73.83 495.53 76.68 494.2 80 C492.87 83.32 492.37 87.4 491 90.9 C489.63 94.4 487.58 97.82 486 101 C484.42 104.18 483.32 107.17 481.5 110 C479.68 112.83 477.75 114.02 475.1 118 C472.45 121.98 468.2 129.4 465.6 133.9 C463 138.4 460.78 141.48 459.5 145 C458.22 148.52 458 151.68 457.9 155 C457.8 158.32 457.57 162.25 458.9 164.9 C460.23 167.55 462.42 168.9 465.9 170.9 C469.38 172.9 474.82 174.75 479.8 176.9 C484.78 179.05 490.8 181.28 495.8 183.8 C500.8 186.32 504.8 189.32 509.8 192 C514.8 194.68 521.48 196.92 525.8 199.9 C530.12 202.88 533.72 206.92 535.7 209.9 C537.68 212.88 537.65 215.78 537.7 217.8 C537.75 219.82 536.5 220.63 536 222 C535.5 223.37 534.92 225.33 534.7 226" stroke="#7a0177" stroke-width="1.5" fill="none"/>
<path d="M457.3 156 C457.38 157 457.35 160.08 457.8 162 C458.25 163.92 458.72 165.92 460 167.5 C461.28 169.08 463 170.17 465.5 171.5 C468 172.83 473.42 174.83 475 175.5" stroke="#f768a1" stroke-width="1.6" fill="none"/>
<path d="M458.2 155 C458.28 156 458.18 159.08 458.7 161 C459.22 162.92 459.92 164.92 461.3 166.5 C462.68 168.08 464.55 169.2 467 170.5 C469.45 171.8 474.5 173.67 476 174.3" stroke="#fa9fb5" stroke-width="1.4" fill="none"/>
<path d="M458 157 C458.25 158.17 458.58 161.92 459.5 164 C460.42 166.08 461.75 167.92 463.5 169.5 C465.25 171.08 467.25 172.12 470 173.5 C472.75 174.88 475.83 175.97 480 177.8 C484.17 179.63 490.33 182.22 495 184.5 C499.67 186.78 505.83 190.33 508 191.5" stroke="#ae017e" stroke-width="1.2" fill="none"/>
<path d="M543.1 11.7 L554.2 11.9" stroke="#3f007d" stroke-width="1.3" fill="none"/>
<path d="M546.5 11.7 C546.47 14.75 546.38 23.62 546.3 30 C546.22 36.38 546.07 44.17 546 50 C545.93 55.83 545.98 60.83 545.9 65 C545.82 69.17 545.82 71.17 545.5 75 C545.18 78.83 544.92 83.5 544 88 C543.08 92.5 541.83 97 540 102 C538.17 107 535.33 113 533 118 C530.67 123 528.33 127.33 526 132 C523.67 136.67 521.33 141.83 519 146 C516.67 150.17 513.83 153.67 512 157 C510.17 160.33 508.67 164.5 508 166" stroke="#cbc9e2" stroke-width="1.8" fill="none"/>
<path d="M548.5 11.7 C548.42 14.75 548.17 23.62 548 30 C547.83 36.38 547.58 44.17 547.5 50 C547.42 55.83 547.53 60 547.5 65 C547.47 70 547.38 75 547.3 80 C547.22 85 547.38 90 547 95 C546.62 100 546.33 105.5 545 110 C543.67 114.5 541.33 117.67 539 122 C536.67 126.33 533.5 131.67 531 136 C528.5 140.33 526.67 144.17 524 148 C521.33 151.83 517.58 155.92 515 159 C512.42 162.08 509.58 165.25 508.5 166.5" stroke="#9e9ac8" stroke-width="1.1" fill="none"/>
<path d="M549.9 54.9 C550.4 55.9 552.57 58.23 552.9 60.9 C553.23 63.57 552.4 67.72 551.9 70.9 C551.4 74.08 550.5 76.48 549.9 80 C549.3 83.52 548.95 87.67 548.3 92 C547.65 96.33 547.38 101.5 546 106 C544.62 110.5 542.33 114.5 540 119 C537.67 123.5 534.5 128.67 532 133 C529.5 137.33 527.67 141 525 145 C522.33 149 518.83 153.5 516 157 C513.17 160.5 509.33 164.5 508 166" stroke="#6a51a3" stroke-width="1.2" fill="none"/>
<path d="M548 50 C548.98 51.48 552.98 55.9 553.9 58.9 C554.82 61.9 553.9 64.82 553.5 68 C553.1 71.18 552.17 74 551.5 78 C550.83 82 550.17 87.67 549.5 92 C548.83 96.33 548.58 100.17 547.5 104 C546.42 107.83 544.62 111.68 543 115 C541.38 118.32 540.05 120.08 537.8 123.9 C535.55 127.72 532.13 133.55 529.5 137.9 C526.87 142.25 524.75 146.32 522 150 C519.25 153.68 515.42 157.17 513 160 C510.58 162.83 508.42 165.83 507.5 167" stroke="#54278f" stroke-width="1.2" fill="none"/>
<path d="M551.7 12 C552.83 12.83 556.7 14.83 558.5 17 C560.3 19.17 561.67 22.5 562.5 25 C563.33 27.5 563.67 29.33 563.5 32 C563.33 34.67 562.67 38 561.5 41 C560.33 44 558.8 46.83 556.5 50 C554.2 53.17 550.45 56.58 547.7 60 C544.95 63.42 542.12 67.5 540 70.5 C537.88 73.5 536.42 74.75 535 78 C533.58 81.25 532.67 86.17 531.5 90 C530.33 93.83 528.92 97.5 528 101 C527.08 104.5 526.68 107.63 526 111 C525.32 114.37 524.95 117.42 523.9 121.2 C522.85 124.98 520.87 129.73 519.7 133.7 C518.53 137.67 518.18 141.28 516.9 145 C515.62 148.72 513.53 152.35 512 156 C510.47 159.65 509.08 163.08 507.7 166.9 C506.32 170.72 504.82 175.38 503.7 178.9 C502.58 182.42 500.97 184.5 501 188 C501.03 191.5 503.25 196.58 503.9 199.9 C504.55 203.22 505.57 204.92 504.9 207.9 C504.23 210.88 501.55 215.45 499.9 217.8 C498.25 220.15 496.33 220.63 495 222 C493.67 223.37 492.42 225.33 491.9 226" stroke="#3f007d" stroke-width="1.5" fill="none"/>
<path d="M552.5 11.7 C553.67 12.58 557.67 14.78 559.5 17 C561.33 19.22 562.67 22.5 563.5 25 C564.33 27.5 564.67 29.25 564.5 32 C564.33 34.75 563.67 38.33 562.5 41.5 C561.33 44.67 559.67 47.75 557.5 51 C555.33 54.25 552.08 57.67 549.5 61 C546.92 64.33 544.08 68 542 71 C539.92 74 538.42 75.83 537 79 C535.58 82.17 534.62 86.33 533.5 90 C532.38 93.67 531.13 97.33 530.3 101 C529.47 104.67 529.05 108.5 528.5 112 C527.95 115.5 527.67 118.33 527 122 C526.33 125.67 525.5 130 524.5 134 C523.5 138 522.75 142 521 146 C519.25 150 516.17 154.5 514 158 C511.83 161.5 509 165.5 508 167" stroke="#54278f" stroke-width="1.3" fill="none"/>
<path d="M553.5 11.7 C554.67 12.58 558.67 14.7 560.5 17 C562.33 19.3 563.7 22.92 564.5 25.5 C565.3 28.08 565.5 29.75 565.3 32.5 C565.1 35.25 564.43 38.75 563.3 42 C562.17 45.25 560.47 48.67 558.5 52 C556.53 55.33 553.92 58.67 551.5 62 C549.08 65.33 546.08 69 544 72 C541.92 75 540.42 76.83 539 80 C537.58 83.17 536.62 87.5 535.5 91 C534.38 94.5 533.22 97.5 532.3 101 C531.38 104.5 530.7 108.63 530 112 C529.3 115.37 528.65 117.58 528.1 121.2 C527.55 124.82 527.63 129.4 526.7 133.7 C525.77 138 524.45 142.78 522.5 147 C520.55 151.22 517.33 155.67 515 159 C512.67 162.33 509.58 165.67 508.5 167" stroke="#6a51a3" stroke-width="1.3" fill="none"/>
<path d="M554.5 11.7 C555.67 12.67 559.7 15.12 561.5 17.5 C563.3 19.88 564.55 23.42 565.3 26 C566.05 28.58 566.22 30.25 566 33 C565.78 35.75 565.08 39.17 564 42.5 C562.92 45.83 561.25 49.58 559.5 53 C557.75 56.42 555.75 59.67 553.5 63 C551.25 66.33 548.08 70 546 73 C543.92 76 542.42 77.83 541 81 C539.58 84.17 538.67 88.33 537.5 92 C536.33 95.67 535.08 99.17 534 103 C532.92 106.83 531.83 111 531 115 C530.17 119 529.92 122.83 529 127 C528.08 131.17 527.33 135.5 525.5 140 C523.67 144.5 520.58 149.83 518 154 C515.42 158.17 511.33 163.17 510 165" stroke="#54278f" stroke-width="1.2" fill="none"/>
<path d="M549 14 C550 14.67 553.33 16 555 18 C556.67 20 558.25 23.33 559 26 C559.75 28.67 559.83 31.17 559.5 34 C559.17 36.83 558.25 40.17 557 43 C555.75 45.83 554 48.5 552 51 C550 53.5 547.5 55.17 545 58 C542.5 60.83 539.33 64.67 537 68 C534.67 71.33 532.67 74.33 531 78 C529.33 81.67 528.17 86 527 90 C525.83 94 524.92 98.33 524 102 C523.08 105.67 522.5 108.17 521.5 112 C520.5 115.83 519.23 119.5 518 125 C516.77 130.5 515.43 139.5 514.1 145 C512.77 150.5 511.18 154.5 510 158 C508.82 161.5 507.5 164.67 507 166" stroke="#cbc9e2" stroke-width="1.2" fill="none"/>
<path d="M536 75 C535 77.17 531.83 83.83 530 88 C528.17 92.17 526.25 96.33 525 100 C523.75 103.67 523.67 105.33 522.5 110 C521.33 114.67 519.42 122.17 518 128 C516.58 133.83 515.5 140 514 145 C512.5 150 509.83 155.83 509 158" stroke="#cbc9e2" stroke-width="1.0" fill="none"/>
<path d="M638 11.7 C639.5 11.92 644.67 12.12 647 13 C649.33 13.88 650.75 15.17 652 17 C653.25 18.83 653.83 21 654.5 24 C655.17 27 655.5 29.83 656 35 C656.5 40.17 657.25 51.67 657.5 55" stroke="#e6550d" stroke-width="1.1" fill="none"/>
<path d="M652 11.7 C652.67 12.08 655 12.62 656 14 C657 15.38 657.5 17.33 658 20 C658.5 22.67 658.75 25 659 30 C659.25 35 659.42 46.67 659.5 50" stroke="#a63603" stroke-width="1.1" fill="none"/>
<path d="M659 11.7 C659.07 19.75 659.28 43.62 659.4 60 C659.52 76.38 659.65 101.67 659.7 110" stroke="#d94801" stroke-width="1.4" fill="none"/>
<path d="M643.1 11.7 C644.17 12.02 647.77 12.35 649.5 13.6 C651.23 14.85 652.53 16.68 653.5 19.2 C654.47 21.72 654.8 24.4 655.3 28.7 C655.8 33 655.97 38.95 656.5 45 C657.03 51.05 657.98 57.5 658.5 65 C659.02 72.5 659.38 75.83 659.6 90 C659.82 104.17 659.77 133.33 659.8 150 C659.83 166.67 659.82 181.68 659.8 190 C659.78 198.32 660.05 197.25 659.7 199.9 C659.35 202.55 659.03 203.57 657.7 205.9 C656.37 208.23 654.03 211.58 651.7 213.9 C649.37 216.22 645.98 218.2 643.7 219.8 C641.42 221.4 639.32 222.47 638 223.5 C636.68 224.53 636.17 225.58 635.8 226" stroke="#a63603" stroke-width="1.4" fill="none"/>
<path d="M647.9 11.7 C648.7 12.68 651.63 14.77 652.7 17.6 C653.77 20.43 653.85 23.63 654.3 28.7 C654.75 33.77 655.07 37.78 655.4 48 C655.73 58.22 656.12 73 656.3 90 C656.48 107 656.43 132.02 656.5 150 C656.57 167.98 656.17 188.25 656.7 197.9 C657.23 207.55 658.53 204.9 659.7 207.9 C660.87 210.9 662.57 213.55 663.7 215.9 C664.83 218.25 665.9 220.32 666.5 222 C667.1 223.68 667.17 225.33 667.3 226" stroke="#08519c" stroke-width="1.4" fill="none"/>
<path d="M650 11.7 C650.58 12.42 652.67 13.78 653.5 16 C654.33 18.22 654.58 21 655 25 C655.42 29 655.83 37.5 656 40" stroke="#2171b5" stroke-width="1.1" fill="none"/>
</g>
<rect x="36.5" y="11.75" width="294.8" height="213.15" fill="none" stroke="#4d4d4d" stroke-width="1.0"/>
<path d="M33.3 11.75H36.5 M34.7 32.6H36.5 M33.3 53.45H36.5 M34.7 74.3H36.5 M33.3 95.15H36.5 M34.7 116H36.5 M33.3 136.85H36.5 M34.7 157.7H36.5 M33.3 178.55H36.5 M34.7 199.4H36.5 M33.3 220.25H36.5 M36.5 224.9V228.1 M110.2 224.9V228.1 M183.9 224.9V228.1 M257.6 224.9V228.1 M331.3 224.9V228.1" stroke="#4d4d4d" stroke-width="0.9" fill="none"/>
<path d="M34.7 18.03H36.5 M34.7 21.7H36.5 M34.7 24.3H36.5 M34.7 26.32H36.5 M34.7 27.97H36.5 M34.7 29.37H36.5 M34.7 30.58H36.5 M34.7 31.65H36.5 M34.7 38.88H36.5 M34.7 42.55H36.5 M34.7 45.15H36.5 M34.7 47.17H36.5 M34.7 48.82H36.5 M34.7 50.22H36.5 M34.7 51.43H36.5 M34.7 52.5H36.5 M34.7 59.73H36.5 M34.7 63.4H36.5 M34.7 66H36.5 M34.7 68.02H36.5 M34.7 69.67H36.5 M34.7 71.07H36.5 M34.7 72.28H36.5 M34.7 73.35H36.5 M34.7 80.58H36.5 M34.7 84.25H36.5 M34.7 86.85H36.5 M34.7 88.87H36.5 M34.7 90.52H36.5 M34.7 91.92H36.5 M34.7 93.13H36.5 M34.7 94.2H36.5 M34.7 101.43H36.5 M34.7 105.1H36.5 M34.7 107.7H36.5 M34.7 109.72H36.5 M34.7 111.37H36.5 M34.7 112.77H36.5 M34.7 113.98H36.5 M34.7 115.05H36.5 M34.7 122.28H36.5 M34.7 125.95H36.5 M34.7 128.55H36.5 M34.7 130.57H36.5 M34.7 132.22H36.5 M34.7 133.62H36.5 M34.7 134.83H36.5 M34.7 135.9H36.5 M34.7 143.13H36.5 M34.7 146.8H36.5 M34.7 149.4H36.5 M34.7 151.42H36.5 M34.7 153.07H36.5 M34.7 154.47H36.5 M34.7 155.68H36.5 M34.7 156.75H36.5 M34.7 163.98H36.5 M34.7 167.65H36.5 M34.7 170.25H36.5 M34.7 172.27H36.5 M34.7 173.92H36.5 M34.7 175.32H36.5 M34.7 176.53H36.5 M34.7 177.6H36.5 M34.7 184.83H36.5 M34.7 188.5H36.5 M34.7 191.1H36.5 M34.7 193.12H36.5 M34.7 194.77H36.5 M34.7 196.17H36.5 M34.7 197.38H36.5 M34.7 198.45H36.5 M34.7 205.68H36.5 M34.7 209.35H36.5 M34.7 211.95H36.5 M34.7 213.97H36.5 M34.7 215.62H36.5 M34.7 217.02H36.5 M34.7 218.23H36.5 M34.7 219.3H36.5 M73.35 224.9V226.7 M147.05 224.9V226.7 M220.75 224.9V226.7 M294.45 224.9V226.7 M47.59 224.9V226.7 M54.08 224.9V226.7 M58.69 224.9V226.7 M62.26 224.9V226.7 M65.17 224.9V226.7 M67.64 224.9V226.7 M69.78 224.9V226.7 M71.66 224.9V226.7 M84.44 224.9V226.7 M90.93 224.9V226.7 M95.54 224.9V226.7 M99.11 224.9V226.7 M102.02 224.9V226.7 M104.49 224.9V226.7 M106.63 224.9V226.7 M108.51 224.9V226.7 M121.29 224.9V226.7 M127.78 224.9V226.7 M132.39 224.9V226.7 M135.96 224.9V226.7 M138.87 224.9V226.7 M141.34 224.9V226.7 M143.48 224.9V226.7 M145.36 224.9V226.7 M158.14 224.9V226.7 M164.63 224.9V226.7 M169.24 224.9V226.7 M172.81 224.9V226.7 M175.72 224.9V226.7 M178.19 224.9V226.7 M180.33 224.9V226.7 M182.21 224.9V226.7 M194.99 224.9V226.7 M201.48 224.9V226.7 M206.09 224.9V226.7 M209.66 224.9V226.7 M212.57 224.9V226.7 M215.04 224.9V226.7 M217.18 224.9V226.7 M219.06 224.9V226.7 M231.84 224.9V226.7 M238.33 224.9V226.7 M242.94 224.9V226.7 M246.51 224.9V226.7 M249.42 224.9V226.7 M251.89 224.9V226.7 M254.03 224.9V226.7 M255.91 224.9V226.7 M268.69 224.9V226.7 M275.18 224.9V226.7 M279.79 224.9V226.7 M283.36 224.9V226.7 M286.27 224.9V226.7 M288.74 224.9V226.7 M290.88 224.9V226.7 M292.76 224.9V226.7 M305.54 224.9V226.7 M312.03 224.9V226.7 M316.64 224.9V226.7 M320.21 224.9V226.7 M323.12 224.9V226.7 M325.59 224.9V226.7 M327.73 224.9V226.7 M329.61 224.9V226.7" stroke="#555" stroke-width="0.7" fill="none"/>
<text x="30.1" y="14.85" text-anchor="end" class="tl">10<tspan class="sup" dy="-3.3">−8</tspan></text>
<text x="30.1" y="56.55" text-anchor="end" class="tl">10<tspan class="sup" dy="-3.3">−6</tspan></text>
<text x="30.1" y="98.25" text-anchor="end" class="tl">10<tspan class="sup" dy="-3.3">−4</tspan></text>
<text x="30.1" y="139.95" text-anchor="end" class="tl">10<tspan class="sup" dy="-3.3">−2</tspan></text>
<text x="30.1" y="181.65" text-anchor="end" class="tl">10<tspan class="sup" dy="-3.3">0</tspan></text>
<text x="30.1" y="223.35" text-anchor="end" class="tl">10<tspan class="sup" dy="-3.3">2</tspan></text>
<text x="36.5" y="237.3" text-anchor="middle" class="tl">10<tspan class="sup" dy="-3.3">−10</tspan></text>
<text x="110.2" y="237.3" text-anchor="middle" class="tl">10<tspan class="sup" dy="-3.3">−8</tspan></text>
<text x="183.9" y="237.3" text-anchor="middle" class="tl">10<tspan class="sup" dy="-3.3">−6</tspan></text>
<text x="257.6" y="237.3" text-anchor="middle" class="tl">10<tspan class="sup" dy="-3.3">−4</tspan></text>
<text x="331.3" y="237.3" text-anchor="middle" class="tl">10<tspan class="sup" dy="-3.3">−2</tspan></text>
<rect x="396.6" y="11.75" width="303.7" height="213.15" fill="none" stroke="#4d4d4d" stroke-width="1.0"/>
<path d="M393.4 11.75H396.6 M394.8 32.6H396.6 M393.4 53.45H396.6 M394.8 74.3H396.6 M393.4 95.15H396.6 M394.8 116H396.6 M393.4 136.85H396.6 M394.8 157.7H396.6 M393.4 178.55H396.6 M394.8 199.4H396.6 M393.4 220.25H396.6 M396.6 224.9V228.1 M436.13 224.9V228.1 M475.66 224.9V228.1 M515.19 224.9V228.1 M554.72 224.9V228.1 M594.25 224.9V228.1 M633.78 224.9V228.1 M673.31 224.9V228.1" stroke="#4d4d4d" stroke-width="0.9" fill="none"/>
<path d="M394.8 18.03H396.6 M394.8 21.7H396.6 M394.8 24.3H396.6 M394.8 26.32H396.6 M394.8 27.97H396.6 M394.8 29.37H396.6 M394.8 30.58H396.6 M394.8 31.65H396.6 M394.8 38.88H396.6 M394.8 42.55H396.6 M394.8 45.15H396.6 M394.8 47.17H396.6 M394.8 48.82H396.6 M394.8 50.22H396.6 M394.8 51.43H396.6 M394.8 52.5H396.6 M394.8 59.73H396.6 M394.8 63.4H396.6 M394.8 66H396.6 M394.8 68.02H396.6 M394.8 69.67H396.6 M394.8 71.07H396.6 M394.8 72.28H396.6 M394.8 73.35H396.6 M394.8 80.58H396.6 M394.8 84.25H396.6 M394.8 86.85H396.6 M394.8 88.87H396.6 M394.8 90.52H396.6 M394.8 91.92H396.6 M394.8 93.13H396.6 M394.8 94.2H396.6 M394.8 101.43H396.6 M394.8 105.1H396.6 M394.8 107.7H396.6 M394.8 109.72H396.6 M394.8 111.37H396.6 M394.8 112.77H396.6 M394.8 113.98H396.6 M394.8 115.05H396.6 M394.8 122.28H396.6 M394.8 125.95H396.6 M394.8 128.55H396.6 M394.8 130.57H396.6 M394.8 132.22H396.6 M394.8 133.62H396.6 M394.8 134.83H396.6 M394.8 135.9H396.6 M394.8 143.13H396.6 M394.8 146.8H396.6 M394.8 149.4H396.6 M394.8 151.42H396.6 M394.8 153.07H396.6 M394.8 154.47H396.6 M394.8 155.68H396.6 M394.8 156.75H396.6 M394.8 163.98H396.6 M394.8 167.65H396.6 M394.8 170.25H396.6 M394.8 172.27H396.6 M394.8 173.92H396.6 M394.8 175.32H396.6 M394.8 176.53H396.6 M394.8 177.6H396.6 M394.8 184.83H396.6 M394.8 188.5H396.6 M394.8 191.1H396.6 M394.8 193.12H396.6 M394.8 194.77H396.6 M394.8 196.17H396.6 M394.8 197.38H396.6 M394.8 198.45H396.6 M394.8 205.68H396.6 M394.8 209.35H396.6 M394.8 211.95H396.6 M394.8 213.97H396.6 M394.8 215.62H396.6 M394.8 217.02H396.6 M394.8 218.23H396.6 M394.8 219.3H396.6 M408.5 224.9V226.7 M415.46 224.9V226.7 M420.4 224.9V226.7 M424.23 224.9V226.7 M427.36 224.9V226.7 M430.01 224.9V226.7 M432.3 224.9V226.7 M434.32 224.9V226.7 M448.03 224.9V226.7 M454.99 224.9V226.7 M459.93 224.9V226.7 M463.76 224.9V226.7 M466.89 224.9V226.7 M469.54 224.9V226.7 M471.83 224.9V226.7 M473.85 224.9V226.7 M487.56 224.9V226.7 M494.52 224.9V226.7 M499.46 224.9V226.7 M503.29 224.9V226.7 M506.42 224.9V226.7 M509.07 224.9V226.7 M511.36 224.9V226.7 M513.38 224.9V226.7 M527.09 224.9V226.7 M534.05 224.9V226.7 M538.99 224.9V226.7 M542.82 224.9V226.7 M545.95 224.9V226.7 M548.6 224.9V226.7 M550.89 224.9V226.7 M552.91 224.9V226.7 M566.62 224.9V226.7 M573.58 224.9V226.7 M578.52 224.9V226.7 M582.35 224.9V226.7 M585.48 224.9V226.7 M588.13 224.9V226.7 M590.42 224.9V226.7 M592.44 224.9V226.7 M606.15 224.9V226.7 M613.11 224.9V226.7 M618.05 224.9V226.7 M621.88 224.9V226.7 M625.01 224.9V226.7 M627.66 224.9V226.7 M629.95 224.9V226.7 M631.97 224.9V226.7 M645.68 224.9V226.7 M652.64 224.9V226.7 M657.58 224.9V226.7 M661.41 224.9V226.7 M664.54 224.9V226.7 M667.19 224.9V226.7 M669.48 224.9V226.7 M671.5 224.9V226.7 M685.21 224.9V226.7 M692.17 224.9V226.7 M697.11 224.9V226.7" stroke="#555" stroke-width="0.7" fill="none"/>
<text x="390.2" y="14.85" text-anchor="end" class="tl">10<tspan class="sup" dy="-3.3">−8</tspan></text>
<text x="390.2" y="56.55" text-anchor="end" class="tl">10<tspan class="sup" dy="-3.3">−6</tspan></text>
<text x="390.2" y="98.25" text-anchor="end" class="tl">10<tspan class="sup" dy="-3.3">−4</tspan></text>
<text x="390.2" y="139.95" text-anchor="end" class="tl">10<tspan class="sup" dy="-3.3">−2</tspan></text>
<text x="390.2" y="181.65" text-anchor="end" class="tl">10<tspan class="sup" dy="-3.3">0</tspan></text>
<text x="390.2" y="223.35" text-anchor="end" class="tl">10<tspan class="sup" dy="-3.3">2</tspan></text>
<text x="396.6" y="237.3" text-anchor="middle" class="tl">10<tspan class="sup" dy="-3.3">−10</tspan></text>
<text x="436.13" y="237.3" text-anchor="middle" class="tl">10<tspan class="sup" dy="-3.3">−9</tspan></text>
<text x="475.66" y="237.3" text-anchor="middle" class="tl">10<tspan class="sup" dy="-3.3">−8</tspan></text>
<text x="515.19" y="237.3" text-anchor="middle" class="tl">10<tspan class="sup" dy="-3.3">−7</tspan></text>
<text x="554.72" y="237.3" text-anchor="middle" class="tl">10<tspan class="sup" dy="-3.3">−6</tspan></text>
<text x="594.25" y="237.3" text-anchor="middle" class="tl">10<tspan class="sup" dy="-3.3">−5</tspan></text>
<text x="633.78" y="237.3" text-anchor="middle" class="tl">10<tspan class="sup" dy="-3.3">−4</tspan></text>
<text x="673.31" y="237.3" text-anchor="middle" class="tl">10<tspan class="sup" dy="-3.3">−3</tspan></text>
<text x="183.9" y="7.7" text-anchor="middle" class="tt">HD 189733 b</text>
<text x="548.45" y="7.7" text-anchor="middle" class="tt">HD 209458 b</text>
<text x="183.9" y="248.9" text-anchor="middle" class="xl">Volume mixing ratio</text>
<text x="548.45" y="248.9" text-anchor="middle" class="xl">Volume mixing ratio</text>
<text transform="translate(7.5 119.5) rotate(-90)" text-anchor="middle" class="yl">Pressure (bar)</text>
<text transform="translate(367.4 119.5) rotate(-90)" text-anchor="middle" class="yl">Pressure (bar)</text>
<text x="152" y="32.3" class="lb" fill="#ae017e" stroke="#ae017e">HCN</text>
<text x="184" y="73.9" class="lb" fill="#6a51a3" stroke="#6a51a3">CO<tspan class="sub" dy="2.2">2</tspan></text>
<text x="254.7" y="94.9" class="lb" fill="#2f78c4" stroke="#2f78c4">H<tspan class="sub" dy="2.2">2</tspan><tspan dy="-2.2">O</tspan></text>
<text x="73.8" y="109.7" class="lb" fill="#404040" stroke="#404040">NH<tspan class="sub" dy="2.2">3</tspan></text>
<text x="183.4" y="140.1" class="lb" fill="#238b45" stroke="#238b45">CH<tspan class="sub" dy="2.2">4</tspan></text>
<text x="289.4" y="109.5" class="lb" fill="#e6550d" stroke="#e6550d">CO</text>
<text x="507" y="74.3" class="lb" fill="#ae017e" stroke="#ae017e">HCN</text>
<text x="555" y="74.3" class="lb" fill="#6a51a3" stroke="#6a51a3">CO<tspan class="sub" dy="2.2">2</tspan></text>
<text x="634.5" y="94.9" class="lb" fill="#2f78c4" stroke="#2f78c4">H<tspan class="sub" dy="2.2">2</tspan><tspan dy="-2.2">O</tspan></text>
<text x="436.3" y="104.5" class="lb" fill="#404040" stroke="#404040">NH<tspan class="sub" dy="2.2">3</tspan></text>
<text x="482.3" y="141.1" class="lb" fill="#238b45" stroke="#238b45">CH<tspan class="sub" dy="2.2">4</tspan></text>
<text x="667" y="109.7" class="lb" fill="#e6550d" stroke="#e6550d">CO</text>
</svg>
</body></html>
